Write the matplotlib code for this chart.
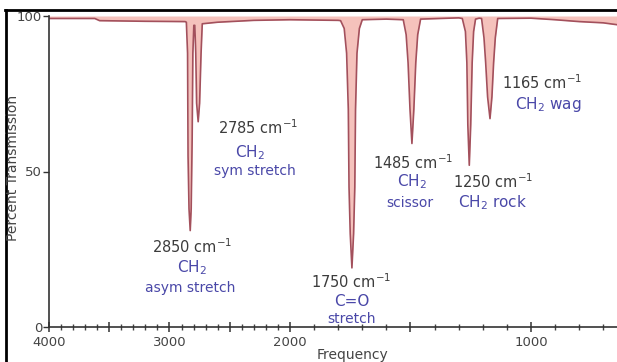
import numpy as np
import matplotlib
matplotlib.use("Agg")
import matplotlib.pyplot as plt
from matplotlib.lines import Line2D
from matplotlib.ticker import FuncFormatter

# ---------------- data ----------------
wavenumber = [4000, 3620, 3580, 3200, 2870, 2860, 2850, 2846, 2838, 2828, 2820,
              2812, 2806, 2798, 2790, 2782, 2775, 2762, 2750, 2738, 2728, 2600,
              2300, 2000, 1800, 1790, 1775, 1765, 1758, 1755, 1750, 1743, 1736,
              1731, 1728, 1722, 1712, 1700, 1600, 1530, 1518, 1510, 1502, 1494,
              1486, 1478, 1470, 1458, 1300, 1285, 1272, 1266, 1262, 1256, 1250,
              1244, 1238, 1230, 1215, 1205, 1195, 1188, 1180, 1170, 1162, 1155,
              1148, 1138, 1000, 900, 800, 700, 643]
transmission = [99.2, 99.2, 98.5, 98.3, 98.2, 98.0, 88, 55, 38, 31, 38,
                60, 88, 97, 97, 88, 72, 66, 72, 88, 97.5, 98.0,
                98.6, 98.8, 98.6, 98.5, 96, 88, 70, 45, 30, 19, 30,
                45, 70, 88, 96, 98.8, 99.0, 98.8, 94, 85, 70, 59,
                70, 85, 94, 99, 99.4, 99.2, 95, 85, 65, 52, 65,
                85, 95, 99, 99.3, 99.2, 93, 85, 74, 67, 74, 85,
                93, 99.2, 99.3, 98.8, 98.2, 97.8, 97.2]

x_major_ticks = [4000, 3000, 2000, 1000]
y_ticks = [0, 50, 100]

peak_values = ["2850", "2785", "1750", "1485", "1250", "1165"]
peak_groups = ["CH$_2$", "CH$_2$", "C=O", "CH$_2$", "CH$_2$ rock", "CH$_2$ wag"]
peak_modes = ["asym stretch", "sym stretch", "stretch", "scissor", "", ""]

# ---------------- layout ----------------
ann_layout = [
    [(2813, 25.7), (2813, 19.0), (2830, 12.5)],
    [(2266, 64.0), (2332, 56.0), (2290, 50.0)],
    [(1747, 14.6), (1743, 8.2), (1743, 2.6)],
    [(1490, 53.0), (1494, 46.6), (1502, 40.0)],
    [(1158, 46.6), (1158, 40.0)],
    [(954, 78.5), (929, 71.4)],
]

W, H = 617, 362
fig = plt.figure(figsize=(W / 100, H / 100), dpi=100)
ax = fig.add_axes([49 / W, 35 / H, 568 / W, 311 / H])


def fwd(x):
    x = np.asarray(x, dtype=float)
    return np.where(x >= 2000, x, 2000 - (2000 - x) * 2.0)


def inv(y):
    y = np.asarray(y, dtype=float)
    return np.where(y >= 2000, y, 2000 - (2000 - y) / 2.0)


ax.set_xscale('function', functions=(fwd, inv))
ax.set_xlim(4000, 643)
ax.set_ylim(0, 100)

ax.fill_between(wavenumber, transmission, 100, color='#f5c2bc', lw=0)
ax.plot(wavenumber, transmission, color='#a3505c', lw=1.2)

for spine in ['top', 'right']:
    ax.spines[spine].set_visible(False)
for spine in ['left', 'bottom']:
    ax.spines[spine].set_color('#333333')
    ax.spines[spine].set_linewidth(1.2)

major_pos = list(range(4000, 600, -500))
minor_pos = [v for v in range(4000, 600, -100) if v % 500 != 0]
ax.set_xticks(major_pos)
ax.set_xticks(minor_pos, minor=True)
ax.xaxis.set_major_formatter(FuncFormatter(
    lambda v, p: f"{int(round(v))}" if int(round(v)) in x_major_ticks else ""))
ax.xaxis.set_minor_formatter(FuncFormatter(lambda v, p: ""))
ax.tick_params(axis='x', which='major', direction='inout', length=7, width=1.1,
               labelsize=9.5, pad=3, colors='#333333', labelcolor='#444444')
ax.tick_params(axis='x', which='minor', direction='inout', length=4.5, width=1,
               colors='#444444')
ax.set_yticks(y_ticks)
ax.tick_params(axis='y', direction='out', length=4, width=1, labelsize=9.5,
               pad=1, colors='#333333', labelcolor='#444444')

num_color = '#3c3c3c'
blue = '#4a48a8'
for i in range(len(peak_values)):
    lay = ann_layout[i]
    ax.text(*lay[0], peak_values[i] + " cm$^{-1}$", ha='center', va='center',
            fontsize=10.5, color=num_color)
    ax.text(*lay[1], peak_groups[i], ha='center', va='center',
            fontsize=11, color=blue)
    if peak_modes[i]:
        ax.text(*lay[2], peak_modes[i], ha='center', va='center',
                fontsize=10, color=blue)

fig.text(13 / W, 1 - 168 / H, "Percent Transmission", rotation=90,
         ha='center', va='center', fontsize=10, color='#444444')
fig.text(353 / W, 1 - 355 / H, "Frequency", ha='center', va='center',
         fontsize=10, color='#444444')

fig.add_artist(Line2D([5 / W, 1], [1 - 10 / H, 1 - 10 / H],
                      transform=fig.transFigure, color='black', lw=2))
fig.add_artist(Line2D([6 / W, 6 / W], [0, 1 - 10 / H],
                      transform=fig.transFigure, color='black', lw=2))

fig.savefig("out.png", dpi=100)
